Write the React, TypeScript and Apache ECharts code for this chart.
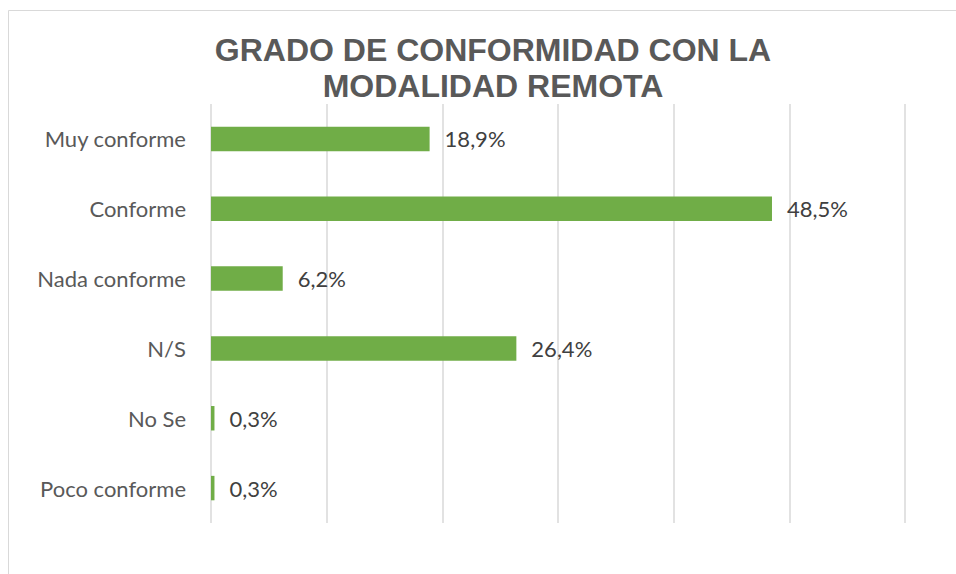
import React, { useEffect, useRef } from "react";
import * as echarts from "echarts";

const categories = ["Muy conforme", "Conforme", "Nada conforme", "N/S", "No Se", "Poco conforme"];
const values = [18.9, 48.5, 6.2, 26.4, 0.3, 0.3];
const titleLines = ["GRADO DE CONFORMIDAD CON LA", "MODALIDAD REMOTA"];

export default function App() {
  const ref = useRef<HTMLDivElement>(null);
  useEffect(() => {
    if (!ref.current) return;
    const chart = echarts.init(ref.current, null, { renderer: "svg" });
    chart.setOption({
      animation: false,
      backgroundColor: "#ffffff",
      title: {
        text: titleLines.join("\n"),
        left: 488,
        top: 27,
        textAlign: "center",
        textStyle: {
          fontFamily: "Liberation Sans",
          fontWeight: "bold",
          fontSize: 32,
          lineHeight: 36,
          color: "#595959",
        },
      },
      graphic: [
        {
          type: "rect",
          shape: { x: 8.5, y: 10.5, width: 1000, height: 700 },
          style: { fill: "none", stroke: "#d9d9d9", lineWidth: 1 },
          silent: true,
          z: -1,
        },
      ],
      grid: { left: 211, right: 51, top: 104, bottom: 51 },
      xAxis: {
        type: "value",
        min: 0,
        max: 60,
        interval: 10,
        axisLabel: { show: false },
        axisLine: { show: false },
        axisTick: { show: false },
        splitLine: { show: true, lineStyle: { color: "#d9d9d9", width: 1.5 } },
      },
      yAxis: {
        type: "category",
        data: categories,
        inverse: true,
        axisLine: { show: false },
        axisTick: { show: false },
        axisLabel: {
          margin: 25,
          fontFamily: "Lato",
          fontSize: 22,
          color: "#595959",
        },
      },
      series: [
        {
          type: "bar",
          data: values,
          barWidth: "35%",
          itemStyle: { color: "#70AD47" },
          label: {
            show: true,
            position: "right",
            distance: 15,
            fontFamily: "Lato",
            fontSize: 22,
            color: "#404040",
            formatter: (p: any) => p.value.toFixed(1).replace(".", ",") + "%",
          },
        },
      ],
    });
    return () => chart.dispose();
  }, []);
  return <div ref={ref} style={{ width: 956, height: 574, position: "absolute", left: 0, top: 0 }} />;
}
